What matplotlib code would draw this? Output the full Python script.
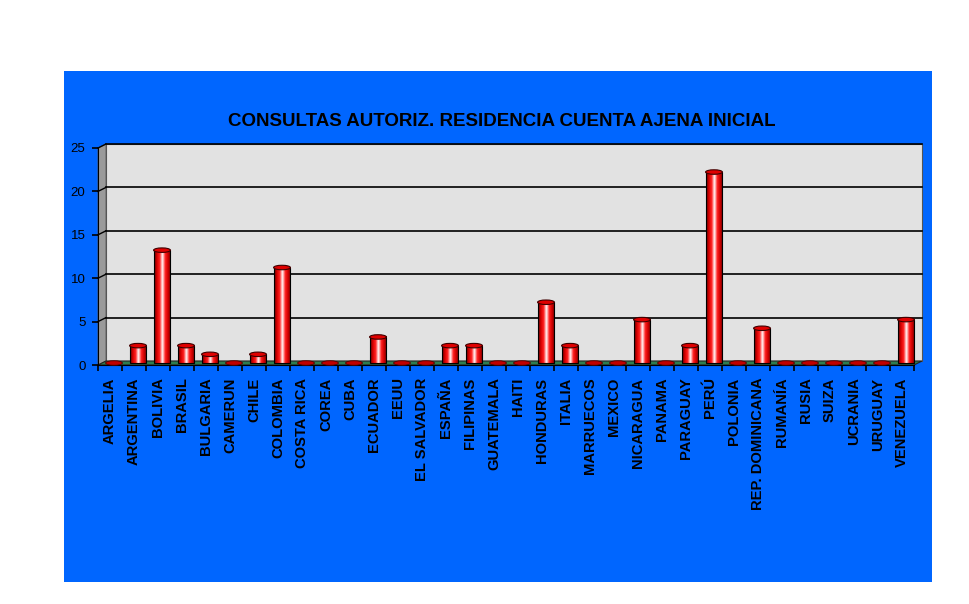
import matplotlib
matplotlib.use('Agg')
import matplotlib.pyplot as plt
import numpy as np
from matplotlib.patches import Rectangle, Ellipse, Polygon
from matplotlib.colors import LinearSegmentedColormap
from matplotlib import transforms

plt.rcParams['font.family'] = ['Liberation Sans', 'DejaVu Sans']

# data
paises = ['ARGELIA', 'ARGENTINA', 'BOLIVIA', 'BRASIL', 'BULGARIA', 'CAMERUN',
          'CHILE', 'COLOMBIA', 'COSTA RICA', 'COREA', 'CUBA', 'ECUADOR', 'EEUU',
          'EL SALVADOR', 'ESPAÑA', 'FILIPINAS', 'GUATEMALA', 'HAITI', 'HONDURAS',
          'ITALIA', 'MARRUECOS', 'MEXICO', 'NICARAGUA', 'PANAMA', 'PARAGUAY',
          'PERÚ', 'POLONIA', 'REP. DOMINICANA', 'RUMANÍA', 'RUSIA', 'SUIZA',
          'UCRANIA', 'URUGUAY', 'VENEZUELA']
consultas = [0, 2, 13, 2, 1, 0, 1, 11, 0, 0, 0, 3, 0, 0, 2, 2, 0, 0, 7,
             2, 0, 0, 5, 0, 2, 22, 0, 4, 0, 0, 0, 0, 0, 5]
yticks = [0, 5, 10, 15, 20, 25]
titulo = 'CONSULTAS AUTORIZ. RESIDENCIA CUENTA AJENA INICIAL'

W, H = 969, 604
fig = plt.figure(figsize=(W / 100, H / 100), dpi=100)
fig.patch.set_facecolor('white')


def fx(x):
    return x / W


def fy(y):
    return 1 - y / H


# blue background panel
fondo = Rectangle((fx(64), fy(582)), fx(932) - fx(64), fy(71) - fy(582),
                  transform=fig.transFigure, facecolor='#0066ff', edgecolor='none')
fondo.set_zorder(-5)
fig.add_artist(fondo)

fig.text(fx(502), fy(122), titulo, ha='center', va='center', fontsize=13.5,
         fontweight='bold', color='black')

ax = fig.add_axes([fx(98), fy(365), fx(914) - fx(98), fy(148) - fy(365)])
ax.set_facecolor('none')
n = len(paises)
ax.set_xlim(-0.5, n - 0.5)
ax.set_ylim(0, 25)

dx, dy = 8, 4
back = transforms.offset_copy(ax.transData, fig=fig, x=dx, y=dy, units='dots')
mid = transforms.offset_copy(ax.transData, fig=fig, x=dx / 2, y=dy / 2, units='dots')
pix = transforms.IdentityTransform()

# back wall
ax.add_patch(Rectangle((-0.5, 0), n, 25, transform=back, facecolor='#e2e2e2',
                       edgecolor='#555555', lw=0.8, zorder=0, clip_on=False))
# left side wall
p0 = ax.transData.transform((-0.5, 0))
p1 = ax.transData.transform((-0.5, 25))
ax.add_patch(Polygon([p0, p1, p1 + [dx, dy], p0 + [dx, dy]], closed=True,
                     transform=pix, facecolor='#9a9a9a',
                     edgecolor='#555555', lw=0.6, zorder=0, clip_on=False))
# floor
q0 = ax.transData.transform((n - 0.5, 0))
ax.add_patch(Polygon([p0, q0, q0 + [dx, dy], p0 + [dx, dy]], closed=True,
                     transform=pix, facecolor='#2e7d50',
                     edgecolor='#222222', lw=0.8, zorder=1, clip_on=False))

# gridlines on back wall and side wall
for t in yticks[1:]:
    ax.plot([-0.5, n - 0.5], [t, t], transform=back, color='black', lw=1.2,
            zorder=0.5, clip_on=False)
    a = ax.transData.transform((-0.5, t))
    ax.plot([a[0], a[0] + dx], [a[1], a[1] + dy], transform=pix,
            color='black', lw=1.0, zorder=0.5, clip_on=False)

# cylinder shading
cil = LinearSegmentedColormap.from_list('cil', ['#600000', '#d80000', '#ff2020', '#ffffff',
                                                '#ff2020', '#d00000', '#700000'])
grad = np.linspace(0, 1, 64).reshape(1, -1)
bw = 0.7
ppu = (ax.transData.transform((0, 1)) - ax.transData.transform((0, 0)))[1]
eh = 4.5 / ppu

for i, v in enumerate(consultas):
    if v > 0:
        ax.imshow(grad, cmap=cil, extent=[i - bw / 2, i + bw / 2, 0, v], aspect='auto',
                  transform=mid, zorder=3, clip_on=False, interpolation='bilinear')
        ax.add_patch(Rectangle((i - bw / 2, 0), bw, v, transform=mid, facecolor='none',
                               edgecolor='black', lw=0.8, zorder=4, clip_on=False))
        ax.add_patch(Ellipse((i, v), bw, eh, transform=mid, facecolor='#e00000',
                             edgecolor='#400000', lw=0.8, zorder=5, clip_on=False))
    else:
        ax.add_patch(Ellipse((i, 0), bw, eh, transform=mid, facecolor='#c00000',
                             edgecolor='#500000', lw=0.6, zorder=3, clip_on=False))

ax.set_xlim(-0.5, n - 0.5)
ax.set_ylim(0, 25)

for s in ['top', 'right']:
    ax.spines[s].set_visible(False)
ax.spines['left'].set_color('black')
ax.spines['bottom'].set_color('black')
ax.spines['left'].set_zorder(6)

ax.set_xticks(range(n))
ax.set_xticklabels(paises, rotation=90, ha='center', va='top', fontsize=10.6,
                   fontweight='bold')
ax.set_xticks(np.arange(-0.5, n, 1), minor=True)
ax.tick_params(axis='x', which='major', length=0, pad=9)
ax.tick_params(axis='x', which='minor', length=4, width=1.2, direction='out', color='black')
ax.set_yticks(yticks)
ax.tick_params(axis='y', length=4, width=1.2, direction='out', labelsize=9.5, pad=5)

fig.savefig('out.png', dpi=100)
